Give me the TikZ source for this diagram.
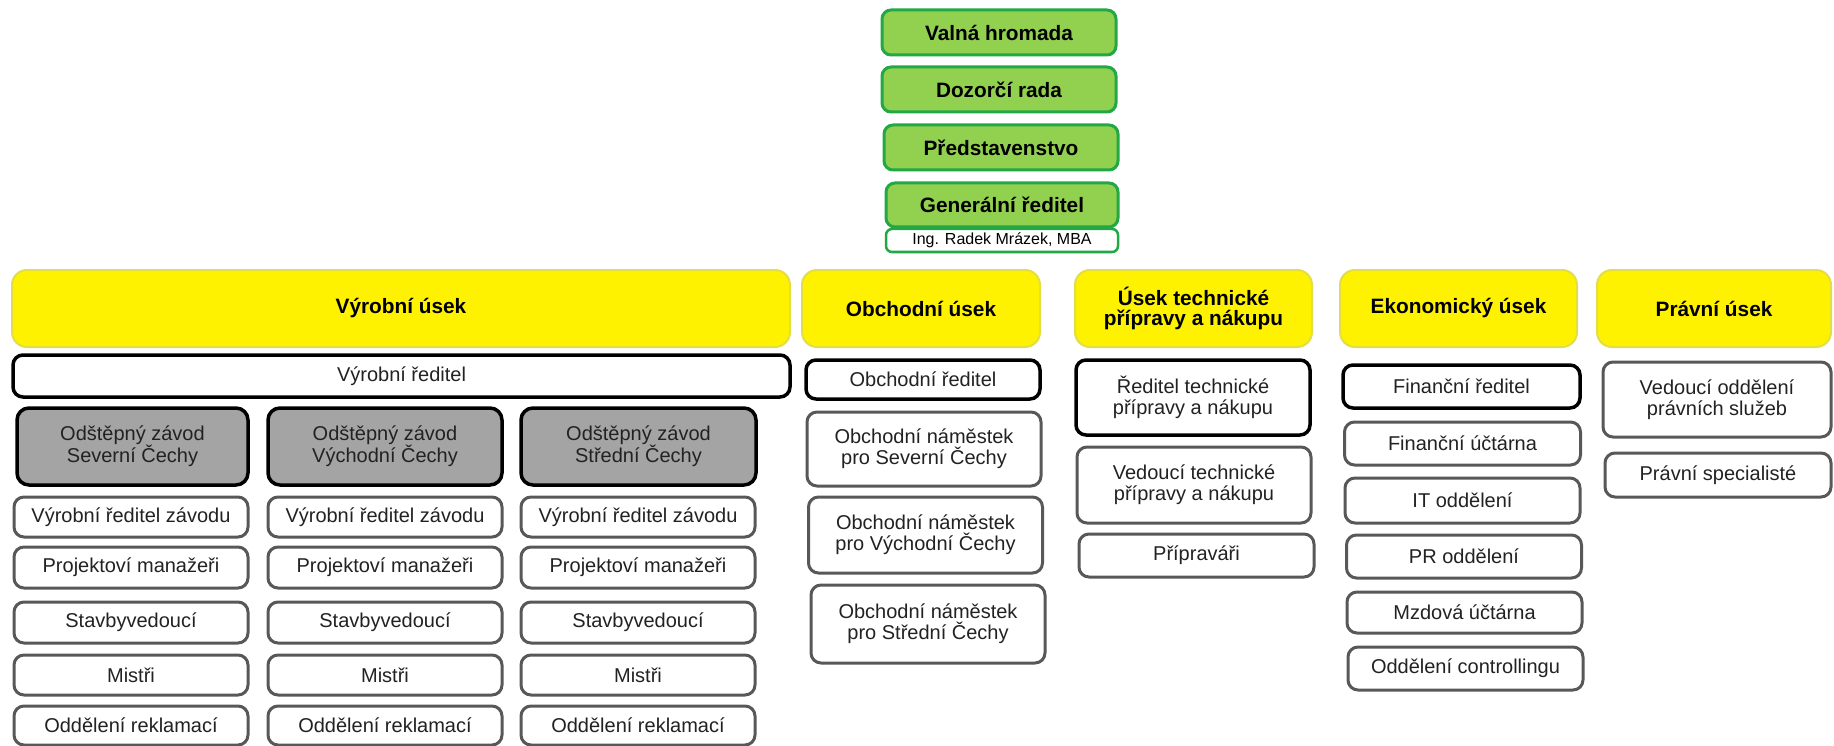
\documentclass[tikz,border=0pt]{standalone}
\usepackage{fontspec}
\setmainfont{Liberation Sans}
\definecolor{zelenaVypln}{RGB}{146,208,80}
\definecolor{zelenaOkraj}{RGB}{34,168,68}
\definecolor{zlutaOkraj}{RGB}{228,222,70}
\definecolor{sedaVypln}{RGB}{164,164,164}
\definecolor{sedaOkraj}{RGB}{88,88,88}
\definecolor{pismo}{RGB}{34,34,34}
\tikzset{
  wh/.style 2 args={minimum width=#1, minimum height=#2},
  hlava/.style={draw=zelenaOkraj, fill=zelenaVypln, line width=3pt, rounded corners=9pt,
    inner sep=0pt, font=\fontsize{20.8}{22}\selectfont\bfseries},
  jmeno/.style={draw=zelenaOkraj, fill=white, line width=2.5pt, rounded corners=6pt,
    inner sep=0pt, font=\fontsize{16}{18}\selectfont},
  usek/.style={draw=zlutaOkraj, fill=yellow, line width=2pt, rounded corners=15pt,
    inner sep=0pt, align=center, font=\fontsize{20.8}{20}\selectfont\bfseries},
  reditel/.style={draw=black, fill=white, line width=3.5pt, rounded corners=10pt,
    inner sep=0pt, align=center, text=pismo, font=\fontsize{20}{21}\selectfont},
  pozice/.style={draw=sedaOkraj, fill=white, line width=3pt, rounded corners=10pt,
    inner sep=0pt, align=center, text=pismo, font=\fontsize{20}{21}\selectfont},
  zavod/.style={draw=black, fill=sedaVypln, line width=3.5pt, rounded corners=12pt,
    inner sep=0pt, align=center, text=pismo, font=\fontsize{20}{22}\selectfont}
}
\begin{document}
\begin{tikzpicture}[x=1pt, y=-1pt]
  \useasboundingbox[fill=white] (0,0) rectangle (1834,746);
  % vedeni spolecnosti
  \node[hlava, wh={234pt}{45pt}] (valna) at (999,32.5) {Valná hromada};
  \node[hlava, wh={234pt}{45pt}] (dozorci) at (999,89.5) {Dozorčí rada};
  \node[hlava, wh={234pt}{45pt}] (predst) at (1001,147.5) {Představenstvo};
  \node[hlava, wh={232pt}{44pt}] (genred) at (1002,205) {Generální ředitel};
  \node[jmeno, wh={232pt}{23pt}] (ing) at (1002,240.5) {Ing. Radek Mrázek, MBA};

  % useky
  \node[usek, wh={778pt}{77pt}] (vyroba) at (401,308.5) {Výrobní úsek};
  \node[usek, wh={238pt}{77pt}] (obchod) at (921,308.5) {Obchodní úsek};
  \node[usek, wh={237pt}{77pt}] (technika) at (1193.5,308.5) {Úsek technické\\přípravy a nákupu};
  \node[usek, wh={237pt}{77pt}] (ekonom) at (1458.5,308.5) {Ekonomický úsek};
  \node[usek, wh={234pt}{77pt}] (pravo) at (1714,308.5) {Právní úsek};

  % vyrobni usek
  \node[reditel, wh={777pt}{42pt}] (vyrred) at (401.5,376) {Výrobní ředitel};
  \node[zavod, wh={231pt}{77pt}] (zavS) at (132.5,446.5) {Odštěpný závod\\Severní Čechy};
  \node[zavod, wh={234pt}{77pt}] (zavV) at (385,446.5) {Odštěpný závod\\Východní Čechy};
  \node[zavod, wh={235pt}{77pt}] (zavC) at (638.5,446.5) {Odštěpný závod\\Střední Čechy};
  \foreach \sl/\x in {S/131, V/385, C/638} {
    \node[pozice, wh={234pt}{40pt}] (vrz\sl) at (\x,517) {Výrobní ředitel závodu};
    \node[pozice, wh={234pt}{41pt}] (pm\sl) at (\x,567.5) {Projektoví manažeři};
    \node[pozice, wh={234pt}{41pt}] (sv\sl) at (\x,622.5) {Stavbyvedoucí};
    \node[pozice, wh={234pt}{40pt}] (mi\sl) at (\x,675) {Mistři};
    \node[pozice, wh={234pt}{39pt}] (rek\sl) at (\x,725.5) {Oddělení reklamací};
  }

  % obchodni usek
  \node[reditel, wh={234pt}{39pt}] (obred) at (923,379.5) {Obchodní ředitel};
  \node[pozice, wh={234pt}{74pt}] (obnS) at (924,449) {Obchodní náměstek\\pro Severní Čechy};
  \node[pozice, wh={234pt}{76pt}] (obnV) at (925.5,535) {Obchodní náměstek\\pro Východní Čechy};
  \node[pozice, wh={234pt}{78pt}] (obnC) at (928,624) {Obchodní náměstek\\pro Střední Čechy};

  % technicka priprava
  \node[reditel, wh={234pt}{75pt}] (tered) at (1193,397.5) {Ředitel technické\\přípravy a nákupu};
  \node[pozice, wh={234pt}{76pt}] (teved) at (1194,485) {Vedoucí technické\\přípravy a nákupu};
  \node[pozice, wh={235pt}{43pt}] (tepri) at (1196.5,555.5) {Přípraváři};

  % ekonomicky usek
  \node[reditel, wh={237pt}{43pt}] (finred) at (1461.5,386.5) {Finanční ředitel};
  \node[pozice, wh={236pt}{43pt}] (finuct) at (1462.5,443.5) {Finanční účtárna};
  \node[pozice, wh={235pt}{45pt}] (it) at (1462.5,500.5) {IT oddělení};
  \node[pozice, wh={235pt}{43pt}] (pr) at (1464,556.5) {PR oddělení};
  \node[pozice, wh={235pt}{41pt}] (mzdy) at (1464.5,612.5) {Mzdová účtárna};
  \node[pozice, wh={235pt}{43pt}] (contr) at (1465.5,668.5) {Oddělení controllingu};

  % pravni usek
  \node[pozice, wh={228pt}{75pt}] (pravved) at (1717,399.5) {Vedoucí oddělení\\právních služeb};
  \node[pozice, wh={226pt}{44pt}] (pravspec) at (1718,475) {Právní specialisté};
\end{tikzpicture}
\end{document}
